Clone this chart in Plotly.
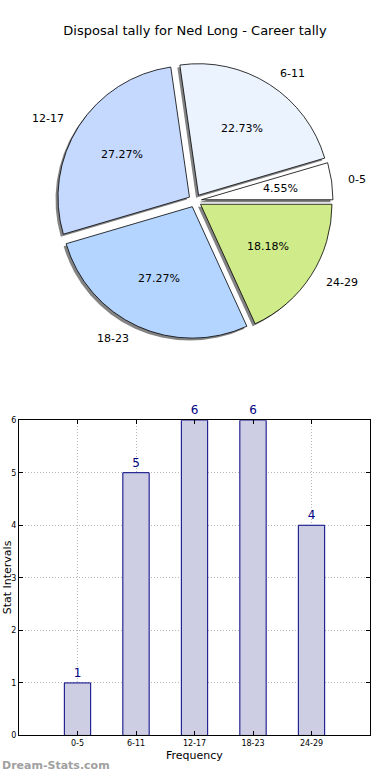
import math
import plotly.graph_objects as go

# ---- data ----
categories = ['0-5', '6-11', '12-17', '18-23', '24-29']
tally = [1, 5, 6, 6, 4]
pie_colors = ['#FFFFFF', '#EBF3FF', '#C5D9FF', '#B4D5FF', '#CFEB8A']
title_text = 'Disposal tally for Ned Long - Career tally'

W, H = 390, 780
FONT = 'DejaVu Sans'

# pie geometry (pixels)
cx_px, cy_px, r_px = 195, 199, 133
pull = 0.05
half = r_px * (1 + pull)
dom_x = [(cx_px - half) / W, (cx_px + half) / W]
dom_y = [1 - (cy_px + half) / H, 1 - (cy_px - half) / H]
sh = 2.5  # shadow offset px (left, down)

total = sum(tally)
first_angle = tally[0] / total * 360.0
rot = 90 - first_angle  # first slice starts at 3 o'clock, counterclockwise

fig = go.Figure()

# shadow
fig.add_trace(go.Pie(
    labels=categories, values=tally, sort=False, direction='counterclockwise',
    rotation=rot, pull=[pull] * len(tally),
    marker=dict(colors=['rgba(90,90,90,0.75)'] * len(tally), line=dict(width=0)),
    textinfo='none', hoverinfo='skip', showlegend=False,
    domain=dict(x=[dom_x[0] - sh / W, dom_x[1] - sh / W],
                y=[dom_y[0] - sh / H, dom_y[1] - sh / H]),
))

# main pie
fig.add_trace(go.Pie(
    labels=categories, values=tally, sort=False, direction='counterclockwise',
    rotation=rot, pull=[pull] * len(tally),
    marker=dict(colors=pie_colors, line=dict(color='#000000', width=0.8)),
    textinfo='none', showlegend=False,
    domain=dict(x=dom_x, y=dom_y),
))

# labels (1.1 r) and percentages (0.6 r), computed from values
cum = 0
annotations = []
for lab, v in zip(categories, tally):
    mid = (cum + v / 2) / total * 2 * math.pi
    cum += v
    c, s = math.cos(mid), math.sin(mid)
    ox, oy = cx_px + r_px * pull * c, cy_px - r_px * pull * s
    lx, ly = ox + 1.1 * r_px * c, oy - 1.1 * r_px * s
    px, py = ox + 0.6 * r_px * c, oy - 0.6 * r_px * s
    annotations.append(dict(
        x=lx / W, y=1 - ly / H, xref='paper', yref='paper', text=lab,
        showarrow=False, xanchor='left' if c > 0 else 'right',
        yanchor='middle', font=dict(family=FONT, size=11, color='#000000')))
    annotations.append(dict(
        x=px / W, y=1 - py / H, xref='paper', yref='paper',
        text='%.2f%%' % (v / total * 100),
        showarrow=False, xanchor='center', yanchor='middle',
        font=dict(family=FONT, size=11, color='#000000')))

# bar chart
fig.add_trace(go.Bar(
    x=categories, y=tally, width=0.45,
    marker=dict(color='#CDCDE3', line=dict(color='#000080', width=1)),
    text=tally, textposition='outside', cliponaxis=False,
    textfont=dict(family=FONT, size=12, color='#000080'),
    showlegend=False, xaxis='x', yaxis='y',
))

bx0, bx1, by0, by1 = 19, 370, 421, 740
axis_common = dict(
    showline=True, linecolor='black', linewidth=1, mirror='ticks',
    ticks='inside', ticklen=4, tickcolor='black',
    showgrid=True, gridcolor='#B5B5B5', griddash='1px,2px', gridwidth=1,
    tickfont=dict(family=FONT, size=8, color='#000000'),
    zeroline=False, fixedrange=True)
fig.update_layout(
    width=W, height=H, margin=dict(l=0, r=0, t=0, b=0),
    paper_bgcolor='white', plot_bgcolor='white',
    title=dict(text=title_text, x=0.5, xanchor='center', y=1 - 30 / H,
               yanchor='middle', font=dict(family=FONT, size=13, color='#000000')),
    xaxis=dict(domain=[bx0 / W, bx1 / W], range=[-1, 5], type='category', **axis_common),
    yaxis=dict(domain=[1 - by1 / H, 1 - by0 / H], range=[0, 6], dtick=1, **axis_common),
    annotations=annotations + [
        dict(x=7 / W, y=1 - 580 / H, xref='paper', yref='paper', text='Stat Intervals',
             textangle=-90, showarrow=False, xanchor='center', yanchor='middle',
             font=dict(family=FONT, size=11, color='#000000')),
        dict(x=194 / W, y=1 - 760 / H, xref='paper', yref='paper', text='Frequency',
             showarrow=False, xanchor='center', yanchor='middle',
             font=dict(family=FONT, size=11, color='#000000')),
        dict(x=0, y=1 - 770 / H, xref='paper', yref='paper', text='<b>Dream-Stats.com</b>',
             showarrow=False, xanchor='left', yanchor='middle',
             font=dict(family=FONT, size=11, color='#A0A0A0')),
    ],
)

fig.write_html('out.html', config={'displayModeBar': False},
               post_script="document.body.style.margin='0px';")
